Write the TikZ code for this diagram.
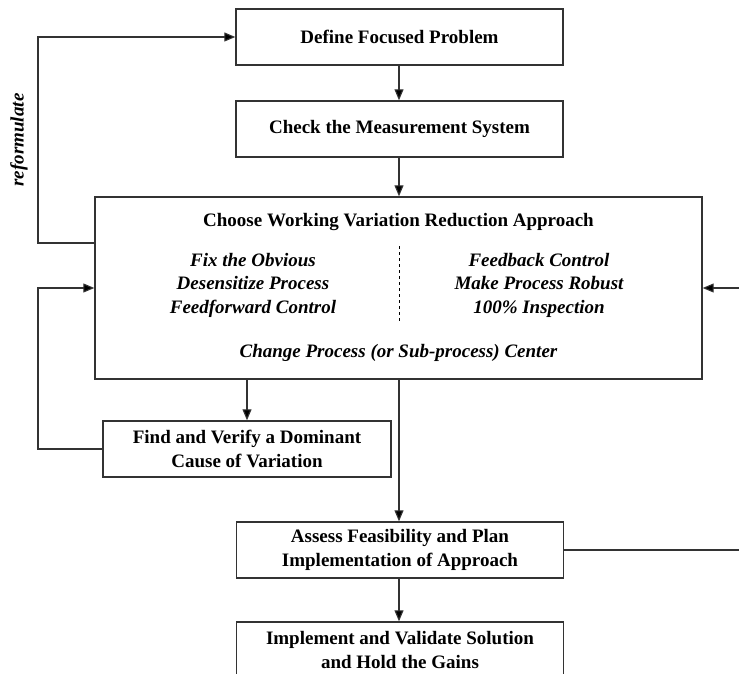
\documentclass[tikz,border=0pt]{standalone}
\usepackage{fontspec}
\setmainfont{Liberation Serif}
\usetikzlibrary{arrows.meta, positioning, calc}

\begin{document}
\begin{tikzpicture}[x=1pt, y=-1pt, >={Triangle[length=11pt,width=9pt,fill=black]}, line width=1.1pt,
  box/.style={draw=black!80, line width=1.4pt, minimum height=56pt, inner sep=0pt, align=center,
    font=\bfseries\fontsize{19}{23.5}\selectfont},
  note/.style={align=center, font=\bfseries\itshape\fontsize{19}{23.5}\selectfont}]
  \useasboundingbox (0,0) rectangle (739,674);
  \clip (0,0) rectangle (739,674);
  % boxes
  \node[box, minimum width=327pt] (define) at (399.5,37) {Define Focused Problem};
  \node[box, minimum width=327pt] (check) at (399.5,129) {Check the Measurement System};
  \node[box, minimum width=607pt, minimum height=182pt] (choose) at (398.5,288) {};
  \node[box, minimum width=288pt] (find) at (247,449) {Find and Verify a Dominant\\Cause of Variation};
  \node[box, minimum width=327pt] (assess) at (400,550) {Assess Feasibility and Plan\\Implementation of Approach};
  \node[box, minimum width=327pt] (implement) at (400,650) {Implement and Validate Solution\\and Hold the Gains};
  % text inside the approach box
  \node[font=\bfseries\fontsize{19}{23.5}\selectfont] (title) at (398.5,222) {Choose Working Variation Reduction Approach};
  \node[note] (leftcol) at (253,285) {Fix the Obvious\\Desensitize Process\\Feedforward Control};
  \node[note] (rightcol) at (539,285) {Feedback Control\\Make Process Robust\\100\% Inspection};
  \node[note] (center) at (398.5,353) {Change Process (or Sub-process) Center};
  \coordinate (dtop) at (399,246);
  \coordinate (dbot) at (399,323);
  \draw[dashed, line width=0.8pt] (dtop) -- (dbot);
  % connectors
  \begin{scope}[draw=black!80]
  \draw[->] (define.south -| 399,0) -- (check.north -| 399,0);
  \draw[->] (check.south -| 399,0) -- (choose.north -| 399,0);
  \draw[->] (choose.south -| find.north) -- (find.north);
  \draw[->] (choose.south -| 399,0) -- (assess.north -| 399,0);
  \draw[->] (assess.south -| 399,0) -- (implement.north -| 399,0);
  \coordinate (reform) at (38,243);
  \coordinate (loop) at (38,449);
  \coordinate (far) at (760,550);
  \draw[->] (choose.west |- reform) -- (reform) |- (define.west);
  \draw[->] (find.west) -- (loop) |- (choose.west);
  \draw[->] (assess.east) -- (far) |- (choose.east);
  \end{scope}
  \node[note, rotate=90] (reformulate) at (19,140) {reformulate};
\end{tikzpicture}
\end{document}
